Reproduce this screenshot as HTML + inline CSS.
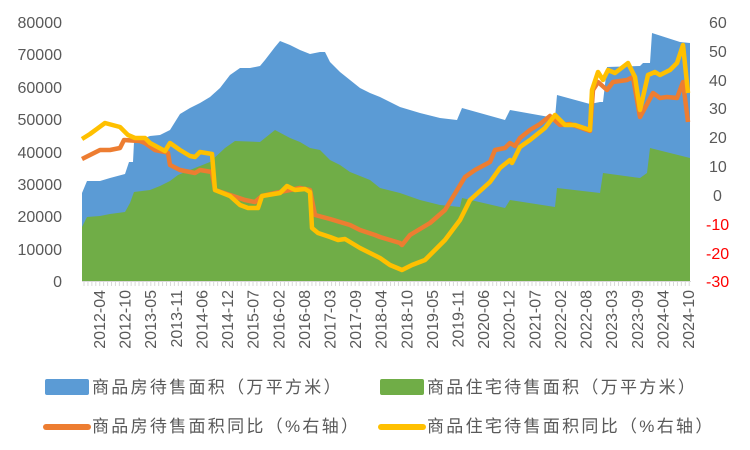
<!DOCTYPE html>
<html><head><meta charset="utf-8">
<style>
html,body{margin:0;padding:0;background:#fff;}
svg{display:block;}
text{font-family:"Liberation Sans","Noto Sans CJK SC",sans-serif;fill:#595959;}
.lg{font-size:17px;letter-spacing:2.3px;font-family:"Liberation Sans","Noto Sans CJK SC",sans-serif;}
</style></head><body>
<svg id="s" width="750" height="450" viewBox="0 0 750 450" xmlns="http://www.w3.org/2000/svg">
<g id="areas"></g>
<line x1="82" y1="281.5" x2="691" y2="281.5" stroke="#d9d9d9" stroke-width="1"/>
<g id="ticks"></g>
<g id="lines"></g>
<g font-size="16" text-anchor="end">
<text x="62" y="28">80000</text><text x="62" y="60">70000</text><text x="62" y="93">60000</text>
<text x="62" y="125">50000</text><text x="62" y="158">40000</text><text x="62" y="190">30000</text>
<text x="62" y="222">20000</text><text x="62" y="255">10000</text><text x="62" y="287">0</text>
</g>
<g font-size="16">
<text x="709" y="28">60</text><text x="709" y="57">50</text><text x="709" y="86">40</text>
<text x="709" y="114">30</text><text x="709" y="143">20</text><text x="709" y="172">10</text>
<text x="713" y="201">0</text>
<text x="706" y="230" style="fill:#ff0000">-10</text><text x="706" y="259" style="fill:#ff0000">-20</text><text x="706" y="287" style="fill:#ff0000">-30</text>
</g>
<g id="xl" font-size="16"></g>
<rect x="45" y="379" width="44" height="16" rx="2" fill="#5b9bd5"/>
<text class="lg" x="92" y="393">商品房待售面积（万平方米）</text>
<rect x="380" y="379" width="44" height="16" rx="2" fill="#70ad47"/>
<text class="lg" x="427" y="393">商品住宅待售面积（万平方米）</text>
<line x1="46" y1="427" x2="88" y2="427" stroke="#ed7d31" stroke-width="6" stroke-linecap="round"/>
<text class="lg" x="92" y="432">商品房待售面积同比（%右轴）</text>
<line x1="381" y1="427" x2="423" y2="427" stroke="#ffc000" stroke-width="6" stroke-linecap="round"/>
<text class="lg" x="427" y="432">商品住宅待售面积同比（%右轴）</text>
</svg>
<script>
var NS="http://www.w3.org/2000/svg";
function el(t,a,p){var e=document.createElementNS(NS,t);for(var k in a)e.setAttribute(k,a[k]);p.appendChild(e);return e;}
function pts(a){var s=[];for(var i=0;i<a.length;i+=2)s.push(a[i]+","+a[i+1]);return s.join(" ");}
var blue=[82,193,87,181,100,181,110,178,125,174,129,162,133,162,134,142,150,136,160,135,170,130,180,114,190,108,200,103,210,97,220,88,230,75,240,68,250,68,260,66,265,60,275,47,280,41,290,45,300,50,310,54,320,52,325,52,330,62,340,72,350,80,360,88,370,93,380,97,400,107,420,113,440,118,457,120,462,108,505,120,510,110,555,118,557,95,590,104,600,102,603,102,607,67,640,66,643,63,650,63,652,33,680,42,690,43];
var green=[82,227,87,217,100,216,110,214,125,212,130,203,134,192,150,190,160,186,170,181,178,175,190,170,210,162,225,148,235,141,260,142,265,138,275,130,290,138,300,142,310,148,320,150,330,160,340,165,350,172,370,180,380,188,400,193,420,200,440,205,460,207,462,198,505,208,510,200,555,207,557,188,600,193,603,173,640,178,647,173,650,148,690,158];
var areas=document.getElementById("areas");
el("polygon",{points:"82,281 "+pts(blue)+" 690,281",fill:"#5b9bd5"},areas);
el("polygon",{points:"82,281 "+pts(green)+" 690,281",fill:"#70ad47"},areas);
var orange=[82,159,100,150,110,150,120,148,124,140,140,141,145,143,155,150,165,152,168,153,170,165,180,170,190,172,195,173,200,170,212,172,215,190,230,195,245,200,255,202,262,196,280,192,300,188,310,190,315,215,330,219,340,222,350,225,360,230,375,235,380,237,400,243,402,245,410,235,420,229,430,223,445,210,465,177,475,170,490,162,495,150,505,148,510,143,515,146,520,138,530,130,540,124,550,116,560,125,570,124,590,131,593,90,598,82,607,90,613,82,627,80,633,77,640,117,653,93,660,98,667,97,677,98,683,82,688,122];
var yellow=[82,139,90,134,105,123,120,127,128,135,135,138,145,138,150,143,165,151,170,143,180,150,190,156,195,157,200,152,212,154,215,190,230,196,240,205,248,208,258,208,262,196,280,193,287,186,295,190,305,189,310,192,312,228,318,233,330,237,338,240,345,239,360,248,370,253,380,258,390,265,402,270,412,265,425,260,445,240,460,220,470,200,490,182,500,168,510,160,512,163,520,147,530,140,545,128,555,115,565,125,575,125,590,130,592,90,598,72,603,80,608,70,615,73,628,63,635,77,640,110,648,75,655,72,660,75,670,70,677,63,683,45,688,93];
var lines=document.getElementById("lines");
el("polyline",{points:pts(orange),fill:"none",stroke:"#ed7d31","stroke-width":4.5,"stroke-linejoin":"round"},lines);
el("polyline",{points:pts(yellow),fill:"none",stroke:"#ffc000","stroke-width":4.5,"stroke-linejoin":"round"},lines);
var ticks=document.getElementById("ticks");
for(var i=0;i<=155;i++){var x=84+i*3.93;if(x>691)break;el("line",{x1:x,y1:282,x2:x,y2:286,stroke:"#d9d9d9","stroke-width":1},ticks);}
var labs=["2012-04","2012-10","2013-05","2013-11","2014-06","2014-12","2015-07","2016-02","2016-08","2017-03","2017-09","2018-04","2018-10","2019-05","2019-11","2020-06","2020-12","2021-07","2022-02","2022-08","2023-03","2023-09","2024-04","2024-10"];
var xl=document.getElementById("xl");
for(var j=0;j<labs.length;j++){var x=99+j*(688-99)/23;var t=el("text",{transform:"translate("+(x+6)+",290) rotate(-90)","text-anchor":"end"},xl);t.textContent=labs[j];}
</script>
</body></html>
